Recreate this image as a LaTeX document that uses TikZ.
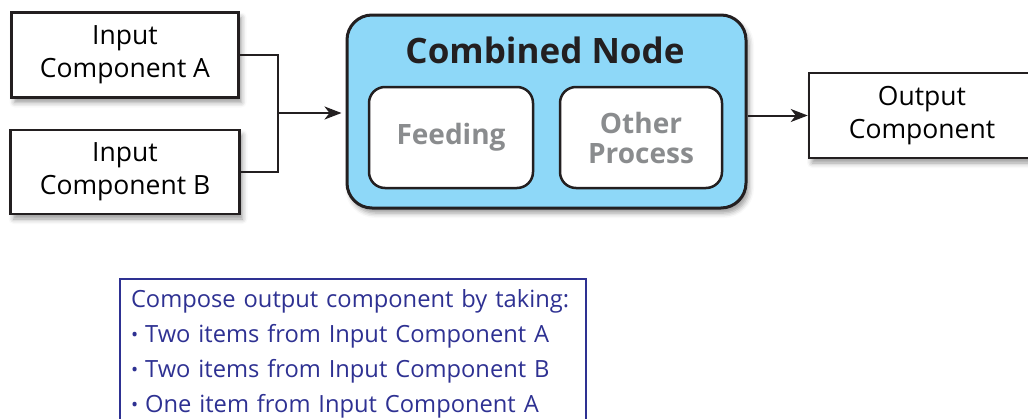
\documentclass[tikz,border=0pt]{standalone}
\usepackage{fontspec}
\setmainfont{Open Sans}
\usetikzlibrary{arrows.meta,shadows.blur}

\definecolor{linecolor}{RGB}{35,31,32}
\definecolor{combinedfill}{RGB}{142,216,248}
\definecolor{processtext}{RGB}{138,140,142}
\definecolor{notecolor}{RGB}{46,49,146}

\tikzset{
  dropshadow/.style={blur shadow={shadow xshift=3pt, shadow yshift=-5pt, shadow blur radius=5pt}},
  component/.style={draw=linecolor, line width=2.5pt, fill=white, align=center,
    font=\fontsize{26.5}{33}\selectfont, dropshadow},
  combined/.style={draw=linecolor, line width=3pt, fill=combinedfill, rounded corners=25pt, dropshadow},
  process/.style={draw=linecolor, line width=2.5pt, fill=white, rounded corners=16pt, align=center,
    text=processtext, font=\fontsize{28}{30}\selectfont\bfseries},
  flow/.style={draw=linecolor, line width=2pt, -{Stealth[length=17pt,width=13pt,inset=5pt]}},
}

\begin{document}
\begin{tikzpicture}[x=1pt, y=-1pt]
  \useasboundingbox (0,0) rectangle (1028,418);
  \clip (0,0) rectangle (1028,418);

  % Input side
  \node[component, minimum width=227pt, minimum height=85pt] (inA) at (125,55) {Input\\Component A};
  \node[component, minimum width=229pt, minimum height=84pt] (inB) at (125,172) {Input\\Component B};
  \coordinate (join) at (278,113);

  % Combined node with its two inner steps
  \node[combined, minimum width=399pt, minimum height=193pt] (comb) at (546.5,111.5) {};
  \node[font=\fontsize{35}{40}\selectfont\bfseries, text=linecolor] (combtitle) at (545,50) {Combined Node};
  \node[process, minimum width=164pt, minimum height=101pt] (feed) at (451,137.5) {Feeding};
  \node[process, minimum width=162pt, minimum height=101pt] (other) at (641,137.5) {Other\\Process};

  % Output side
  \node[component, minimum width=226pt, minimum height=85pt] (out) at (922,115.5) {Output\\Component};

  % Connectors
  \draw[draw=linecolor, line width=2pt] (inA.east) -| (join) |- (inB.east);
  \draw[flow, shorten >=4pt] (join) -- (comb.west |- join);
  \draw[flow] (comb.east |- out.west) -- (out.west);

  % Note
  \node[draw=notecolor, line width=2pt, text=notecolor, anchor=north west, align=left,
    inner xsep=11pt, inner ysep=10pt, text width=444pt, font=\fontsize{23.7}{35}\selectfont] (note) at (119,278)
    {Compose output component by taking:\\
     {\fontsize{19}{19}\selectfont\raisebox{1pt}{•}}\hspace{7pt}Two items from Input Component A\\
     {\fontsize{19}{19}\selectfont\raisebox{1pt}{•}}\hspace{7pt}Two items from Input Component B\\
     {\fontsize{19}{19}\selectfont\raisebox{1pt}{•}}\hspace{7pt}One item from Input Component A\\[40pt]};
\end{tikzpicture}
\end{document}
